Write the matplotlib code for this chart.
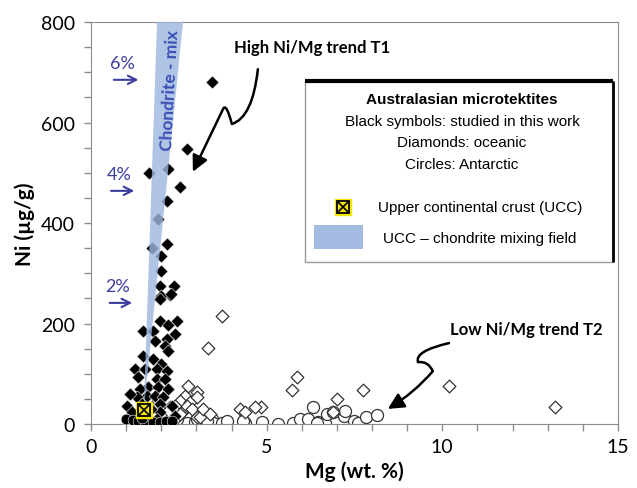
import numpy as np
import matplotlib
matplotlib.use('Agg')
import matplotlib.pyplot as plt
from matplotlib.path import Path
from matplotlib.patches import FancyArrowPatch, Polygon, Rectangle

# Ni vs Mg for Australasian microtektites

# black diamonds: studied in this work
black_dia_mg = [3.45, 2.73, 1.65, 2.20, 2.53, 2.16, 1.91, 2.16, 1.74, 2.00, 2.00, 1.97, 2.37,
                2.25, 2.00, 1.97, 2.28, 1.48, 1.97, 2.45, 2.20, 1.77, 2.39, 2.16, 1.82, 2.10,
                2.20, 1.48, 1.77, 2.00, 1.25, 1.54, 1.88, 2.16, 1.34, 1.88, 2.10, 1.62, 1.40,
                1.91, 2.20, 1.59, 1.82, 2.05, 1.03, 1.97, 1.17, 1.97, 1.88, 1.30, 1.45, 1.70,
                2.30, 1.10, 2.40]
black_dia_ni = [680, 547, 500, 507, 471, 444, 408, 358, 350, 334, 304, 275, 275,
                257, 255, 249, 259, 185, 205, 205, 197, 185, 179, 169, 165, 155,
                145, 135, 129, 119, 109, 109, 109, 105, 94, 90, 90, 74, 70,
                74, 70, 56, 56, 54, 36, 40, 24, 24, 10, 54, 40, 30,
                35, 60, 15]

# black circles: studied in this work
black_cir_mg = [1.00, 1.20, 1.35, 1.55, 1.77, 1.97, 2.14, 1.45, 2.30]
black_cir_ni = [10, 8, 5, 3, 4, 4, 6, 12, 5]

# open diamonds: oceanic
open_dia_mg = [3.74, 3.34, 5.87, 5.73, 7.73, 6.99, 10.18, 13.20, 4.85, 4.68, 4.25, 4.39,
               6.90, 2.76, 3.02, 2.68, 2.53, 2.82, 2.39, 2.25, 2.59, 2.39, 2.73, 3.02,
               2.34, 2.19, 2.53, 3.02, 3.11, 2.88, 3.20, 3.40, 1.90, 2.00]
open_dia_ni = [215, 151, 93, 68, 68, 50, 75, 34, 34, 34, 30, 24,
               24, 76, 64, 56, 46, 44, 36, 34, 24, 10, 36, 54,
               30, 26, 20, 14, 14, 30, 30, 20, 45, 15]

# open circles: Antarctic
open_cir_mg = [4.88, 5.33, 5.76, 5.96, 6.19, 6.33, 6.47, 6.67, 6.73, 7.19, 7.22, 7.50,
               7.59, 7.84, 8.13, 2.74, 2.97, 3.25, 3.45, 3.48, 3.74, 3.88, 4.39, 2.25,
               2.45, 3.02, 3.31, 4.33, 6.90, 6.44]
open_cir_ni = [4, 0, 2, 10, 10, 34, 4, 2, 20, 16, 26, 6,
               2, 14, 18, 2, 4, 0, 10, 2, 2, 6, 2, 24,
               10, 10, 6, 6, 24, 2]

# upper continental crust
ucc_mg, ucc_ni = 1.5, 28

# UCC - chondrite mixing field
band_mg = [1.5, 1.88, 2.62]
band_ni = [25, 800, 800]

# chondrite fraction marks
pct_labels = ['2%', '4%', '6%']
pct_ni = [241, 464, 685]
pct_mg_start = [0.45, 0.49, 0.57]
pct_mg_end = [1.25, 1.31, 1.43]

navy = '#3a3d9e'
spine_c = '#8c8c8c'
leg_font = ['Liberation Sans Narrow', 'Liberation Sans']

plt.rcParams['font.family'] = ['Lato', 'DejaVu Sans']

fig = plt.figure(figsize=(6.37, 4.89), dpi=100)
ax = fig.add_axes([0.1429, 0.1309, 0.8271, 0.822])

ax.scatter(open_cir_mg, open_cir_ni, s=75, marker='o', facecolor='white',
           edgecolor='#333333', linewidth=0.9, zorder=2)
ax.scatter(open_dia_mg, open_dia_ni, s=42, marker='D', facecolor='white',
           edgecolor='#333333', linewidth=0.9, zorder=3)
ax.scatter(black_dia_mg, black_dia_ni, s=44, marker='D', facecolor='black',
           edgecolor='white', linewidth=0.4, zorder=4)
ax.scatter(black_cir_mg, black_cir_ni, s=60, marker='o', facecolor='black',
           edgecolor='white', linewidth=0.4, zorder=4)

band = Polygon(list(zip(band_mg, band_ni)), closed=True, facecolor='#9db6e0',
               edgecolor='none', alpha=0.8, zorder=5)
ax.add_patch(band)
ax.text(2.25, 665, 'Chondrite - mix', rotation=87, color='#3a4fb5', fontsize=12.5,
        fontweight='bold', ha='center', va='center', zorder=6)

# UCC marker
ax.plot(ucc_mg, ucc_ni, marker='s', ms=12, color='#f5e600', mec='#f5e600', zorder=7)
ax.plot(ucc_mg, ucc_ni, marker='s', ms=8.5, mfc='none', mec='black', mew=1.3, zorder=8)
ax.plot(ucc_mg, ucc_ni, marker='x', ms=6.5, color='black', mew=1.2, zorder=8)

# percent arrows
for lab, ni, x0, x1 in zip(pct_labels, pct_ni, pct_mg_start, pct_mg_end):
    ax.annotate('', xy=(x1, ni), xytext=(x0, ni),
                arrowprops=dict(arrowstyle='->', color=navy, lw=1.5, mutation_scale=15))
    ax.text((x0 + x1) / 2 - 0.1, ni + 33, lab, color=navy, fontsize=13,
            ha='center', va='center')

# trend annotations
ax.text(6.29, 750, 'High Ni/Mg trend T1', fontsize=12, fontweight='bold', ha='center', va='center')
ax.text(12.4, 189, 'Low Ni/Mg trend T2', fontsize=12, fontweight='bold', ha='center', va='center')

t1 = Path([(4.75, 706), (4.60, 610), (4.01, 597), (3.85, 640), (3.76, 627), (2.90, 502)],
          [Path.MOVETO, Path.CURVE3, Path.CURVE3, Path.CURVE3, Path.CURVE3, Path.LINETO])
ax.add_patch(FancyArrowPatch(path=t1, arrowstyle='-|>', mutation_scale=24, color='black',
                             lw=1.8, zorder=6))
t2 = Path([(10.19, 161), (9.2, 145), (9.31, 123), (9.6, 126), (9.73, 105), (9.2, 62), (8.45, 30)],
          [Path.MOVETO, Path.CURVE3, Path.CURVE3, Path.CURVE3, Path.CURVE3,
           Path.CURVE3, Path.CURVE3])
ax.add_patch(FancyArrowPatch(path=t2, arrowstyle='-|>', mutation_scale=24, color='black',
                             lw=1.8, zorder=6))

# legend box
ax.add_patch(Rectangle((0.406, 0.403), 0.584, 0.450, transform=ax.transAxes,
                       facecolor='white', edgecolor='#999999', lw=1.0, zorder=9))
ax.plot([0.406, 0.990], [0.853, 0.853], transform=ax.transAxes, color='black', lw=3,
        solid_capstyle='butt', zorder=10)
ax.plot([0.990, 0.990], [0.853, 0.403], transform=ax.transAxes, color='black', lw=2,
        solid_capstyle='butt', zorder=10)
leg_lines = ['Black symbols: studied in this work', 'Diamonds: oceanic', 'Circles: Antarctic']
ax.text(0.704, 0.808, 'Australasian microtektites', transform=ax.transAxes, family=leg_font,
        fontsize=11, fontweight='bold', ha='center', va='center', zorder=11)
for i, line in enumerate(leg_lines):
    ax.text(0.704, 0.754 - i * 0.0535, line, transform=ax.transAxes, family=leg_font,
            fontsize=11, ha='center', va='center', zorder=11)
ax.plot(0.478, 0.540, marker='s', ms=12, color='#f5e600', mec='#f5e600',
        transform=ax.transAxes, zorder=11)
ax.plot(0.478, 0.540, marker='s', ms=8.5, mfc='none', mec='black', mew=1.3,
        transform=ax.transAxes, zorder=12)
ax.plot(0.478, 0.540, marker='x', ms=6.5, color='black', mew=1.2,
        transform=ax.transAxes, zorder=12)
ax.text(0.545, 0.540, 'Upper continental crust (UCC)', transform=ax.transAxes, family=leg_font,
        fontsize=11, ha='left', va='center', zorder=11)
ax.add_patch(Rectangle((0.423, 0.435), 0.093, 0.060, transform=ax.transAxes,
                       facecolor='#a4bbe2', edgecolor='none', zorder=11))
ax.text(0.554, 0.463, 'UCC \u2013 chondrite mixing field', transform=ax.transAxes,
        family=leg_font, fontsize=11, ha='left', va='center', zorder=11)

ax.set_xlim(0, 15)
ax.set_ylim(0, 800)
ax.set_xticks([0, 5, 10, 15])
ax.set_xticks(np.arange(0, 16, 1), minor=True)
ax.set_yticks([0, 200, 400, 600, 800])
ax.set_yticks(np.arange(0, 801, 50), minor=True)
ax.tick_params(which='both', direction='out', color=spine_c, labelsize=14, width=1, length=5)
ax.tick_params(axis='y', pad=6.5)
ax.tick_params(axis='x', pad=5)
for sp in ax.spines.values():
    sp.set_color(spine_c)
ax.set_xlabel('Mg (wt. %)', fontsize=15, fontweight='bold', labelpad=4)
ax.set_ylabel('Ni (\u00b5g/g)', fontsize=15, fontweight='bold', labelpad=4)

fig.savefig('out.png', dpi=100)
